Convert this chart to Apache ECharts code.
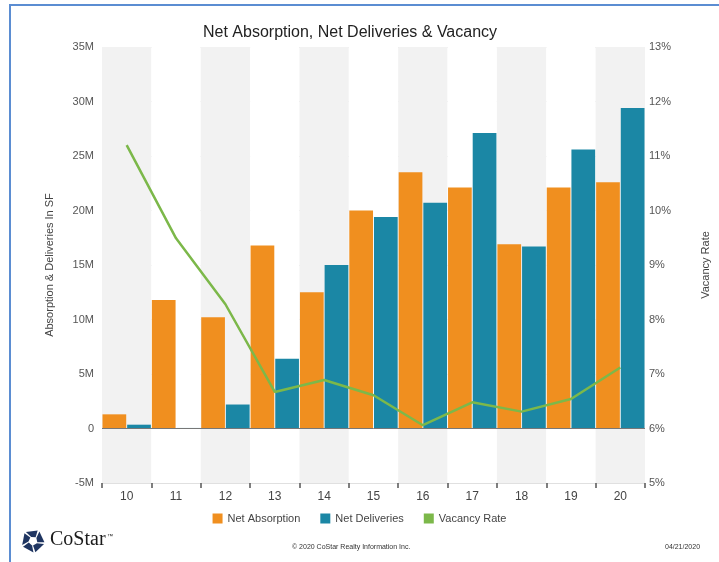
<!DOCTYPE html>
<html>
<head>
<meta charset="UTF-8">
<title>Net Absorption, Net Deliveries & Vacancy</title>
<script src="https://cdn.jsdelivr.net/npm/echarts@6/dist/echarts.min.js"></script>
<style>
  html, body { margin: 0; padding: 0; background: #fff; }
  #chart { width: 719px; height: 562px; }
</style>
</head>
<body>
<div id="chart"></div>
<script>
  var years = ["10", "11", "12", "13", "14", "15", "16", "17", "18", "19", "20"];
  var netAbsorption = [1.3, 11.8, 10.2, 16.8, 12.5, 20.0, 23.5, 22.1, 16.9, 22.1, 22.6];
  var netDeliveries = [0.35, 0.05, 2.2, 6.4, 15.0, 19.4, 20.7, 27.1, 16.7, 25.6, 29.4];
  var vacancyRate = [11.2, 9.49, 8.28, 6.67, 6.89, 6.61, 6.06, 6.48, 6.31, 6.54, 7.12];

  var font = "'Liberation Sans', Arial, sans-serif";

  // logo pieces: five blocks in a ring
  function logoPieces(cx, cy) {
    var out = [];
    for (var k = 0; k < 5; k++) {
      var a = (-90 + 72 * k) * Math.PI / 180;
      var s = 24 * Math.PI / 180;
      var r1 = 4.5, r2 = 11.5;
      var pts = [
        [cx + r1 * Math.cos(a - s), cy + r1 * Math.sin(a - s)],
        [cx + r2 * Math.cos(a - s - 0.25), cy + r2 * Math.sin(a - s - 0.25)],
        [cx + r2 * Math.cos(a + s), cy + r2 * Math.sin(a + s)],
        [cx + r1 * Math.cos(a + s + 0.2), cy + r1 * Math.sin(a + s + 0.2)]
      ];
      out.push({ type: "polygon", shape: { points: pts }, style: { fill: "#1f3561" } });
    }
    return out;
  }

  var chart = echarts.init(document.getElementById("chart"));
  chart.setOption({
    backgroundColor: "#fff",
    animation: false,
    textStyle: { fontFamily: font },
    title: {
      text: "Net Absorption, Net Deliveries & Vacancy",
      left: 198,
      top: 20,
      textStyle: { fontSize: 16, fontWeight: "normal", color: "#222", fontFamily: font }
    },
    legend: {
      bottom: 33,
      left: "center",
      icon: "rect",
      itemWidth: 10,
      itemHeight: 10,
      itemGap: 20,
      textStyle: { fontSize: 11, color: "#444" },
      data: ["Net Absorption", "Net Deliveries", "Vacancy Rate"]
    },
    grid: { left: 102, right: 71, top: 47, bottom: 79, containLabel: false },
    xAxis: {
      type: "category",
      data: years,
      boundaryGap: true,
      axisLine: { show: true, onZero: false, lineStyle: { color: "#e0e0e0" } },
      axisTick: { show: true, inside: false, length: 5, lineStyle: { color: "#555", width: 1.5 } },
      axisLabel: { color: "#444", fontSize: 12, margin: 8 },
      splitArea: { show: true, areaStyle: { color: ["#f2f2f2", "#ffffff"] } },
      splitLine: { show: false }
    },
    yAxis: [
      {
        type: "value",
        min: -5,
        max: 35,
        interval: 5,
        name: "Absorption & Deliveries In SF",
        nameLocation: "middle",
        nameGap: 47,
        nameTextStyle: { color: "#444", fontSize: 11 },
        axisLine: { show: false },
        axisTick: { show: false },
        axisLabel: {
          color: "#555",
          fontSize: 11,
          margin: 8,
          formatter: function (v) { return v === 0 ? "0" : v + "M"; }
        },
        splitLine: { show: true, lineStyle: { color: "#dcdcdc" } }
      },
      {
        type: "value",
        min: 5,
        max: 13,
        interval: 1,
        name: "Vacancy Rate",
        nameLocation: "middle",
        nameGap: 55,
        nameRotate: 90,
        nameTextStyle: { color: "#444", fontSize: 11 },
        axisLine: { show: false },
        axisTick: { show: false },
        axisLabel: { color: "#555", fontSize: 11, margin: 4, formatter: "{value}%" },
        splitLine: { show: false }
      }
    ],
    series: [
      {
        name: "Net Absorption",
        type: "bar",
        data: netAbsorption,
        itemStyle: { color: "#f08f1f" },
        barGap: "4%",
        barCategoryGap: "2%",
        markLine: {
          silent: true,
          symbol: "none",
          label: { show: false },
          lineStyle: { color: "#777", width: 1, type: "solid" },
          data: [{ yAxis: 0 }]
        }
      },
      {
        name: "Net Deliveries",
        type: "bar",
        data: netDeliveries,
        itemStyle: { color: "#1b87a5" },
        barGap: "4%",
        barCategoryGap: "2%"
      },
      {
        name: "Vacancy Rate",
        type: "line",
        yAxisIndex: 1,
        data: vacancyRate,
        symbol: "none",
        itemStyle: { color: "#7cb84a" },
        lineStyle: { color: "#7cb84a", width: 2.5 }
      }
    ],
    graphic: [
      { type: "line", shape: { x1: 9, y1: 5, x2: 719, y2: 5 }, style: { stroke: "#5b8dd2", lineWidth: 2 } },
      { type: "line", shape: { x1: 10, y1: 4, x2: 10, y2: 562 }, style: { stroke: "#5b8dd2", lineWidth: 2 } },
      { type: "group", children: logoPieces(33, 541) },
      { type: "text", left: 50, top: 530, style: { text: "CoStar", fill: "#1a1a1a", font: "20px 'Liberation Serif', 'DejaVu Serif', serif" } },
      { type: "text", left: 107, top: 533, style: { text: "™", fill: "#1a1a1a", font: "6px " + font } },
      { type: "text", left: 292, top: 544, style: { text: "© 2020 CoStar Realty Information Inc.", fill: "#333", font: "7px " + font } },
      { type: "text", left: 665, top: 544, style: { text: "04/21/2020", fill: "#333", font: "7px " + font } }
    ]
  });
</script>
</body>
</html>
